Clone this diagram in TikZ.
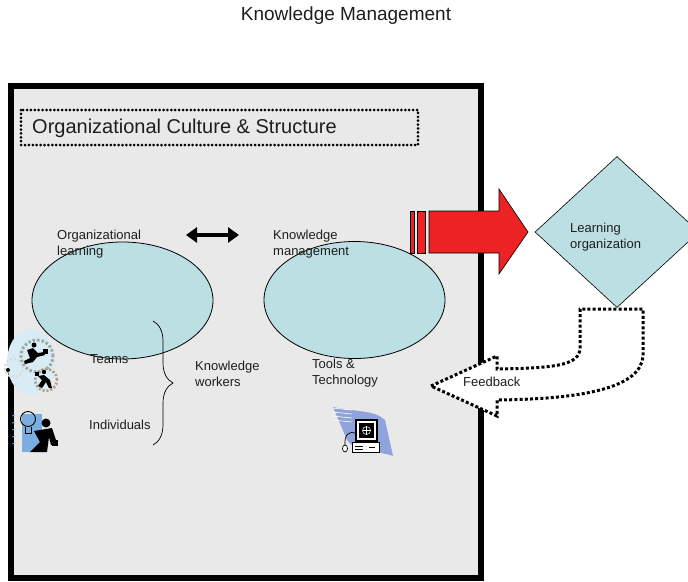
\documentclass[tikz,border=0pt]{standalone}
\usepackage{fontspec}
\setmainfont{Liberation Sans}
\usetikzlibrary{shapes.geometric,arrows.meta,decorations.pathreplacing}

\definecolor{framegray}{HTML}{E9E9E9}
\definecolor{blobfill}{HTML}{BCDFE3}
\definecolor{kmred}{HTML}{ED2224}
\definecolor{txtcol}{HTML}{1E1E1E}
\definecolor{iconpale}{HTML}{D8ECF6}
\definecolor{iconblue}{HTML}{7BAEE0}
\definecolor{swoosh}{HTML}{8FA4DA}
\definecolor{gearcol}{HTML}{9EA8A0}

\tikzset{
  lbl/.style={font=\fontsize{13}{15.5}\selectfont, align=left, inner sep=0pt,
    anchor=base west, text=txtcol},
  blob/.style={ellipse, draw, line width=0.8pt, fill=blobfill,
    minimum width=181pt, minimum height=117pt, inner sep=0pt},
  dotbox/.style={line width=3pt, line cap=round, dash pattern=on 0pt off 3.9pt},
  sqdots/.style={line width=3pt, dash pattern=on 3pt off 2.2pt},
}

\begin{document}
\begin{tikzpicture}[x=1pt,y=-1pt]
  \useasboundingbox (0,0) rectangle (688,581);

  \node[font=\fontsize{19}{22}\selectfont, text=txtcol, inner sep=0pt] (title) at (346,16) {Knowledge Management};

  % outer frame
  \draw[line width=6pt, fill=framegray] (11,86) rectangle (481,578);

  % culture & structure banner
  \draw[dotbox] (21,110) rectangle (418,145);
  \node[font=\fontsize{20}{24}\selectfont, text=txtcol, inner sep=0pt, anchor=west] (culture) at (32,128) {Organizational Culture \& Structure};

  % the two circles of activity
  \node[blob] (olblob) at (122.5,300.5) {};
  \node[blob] (kmblob) at (354.5,300) {};
  \node[lbl] (ollbl) at (57,255) {Organizational\\learning};
  \node[lbl] (kmlbl) at (273,255) {Knowledge\\management};

  \coordinate (dl) at (186,235);
  \coordinate (dr) at (239,235);
  \draw[line width=4.5pt, {Triangle[length=11pt,width=15pt]}-{Triangle[length=11pt,width=15pt]}] (dl) -- (dr);

  % people side
  \node[lbl] (teams) at (90,363) {Teams};
  \node[lbl] (indiv) at (89,429) {Individuals};
  \draw[line width=0.7pt, decorate, decoration={brace, amplitude=20pt}] (153,321) -- (153,445);
  \node[lbl] (kwork) at (195,386) {Knowledge\\workers};
  \node[lbl] (tools) at (312,384) {Tools \&\\Technology};

  % red arrow out to the learning organization
  \draw[fill=kmred, line width=0.6pt] (410,211) rectangle (414,253);
  \draw[fill=kmred, line width=0.6pt] (417,211) rectangle (425,253);
  \draw[fill=kmred, line width=0.6pt] (429,211) -- (499,211) -- (499,189) -- (528,232)
    -- (499,274) -- (499,253) -- (429,253) -- cycle;

  \node[diamond, draw, line width=0.6pt, fill=blobfill, minimum width=164pt,
    minimum height=151pt, inner sep=0pt] (lorg) at (617,232) {};
  \node[lbl] (lorglbl) at (570,248) {Learning\\organization};

  % feedback arrow back into the frame
  \draw[sqdots, fill=white] (431,386) -- (497,356) -- (497,369)
    .. controls (552,368) and (580,366) .. (580,348) -- (580,309) -- (643,309) -- (643,356)
    .. controls (641,386) and (590,399) .. (497,400) -- (497,416) -- cycle;
  \node[lbl] (fb) at (463,386) {Feedback};

  % teams clip art
  \fill[iconpale] (31,362) ellipse [x radius=24pt, y radius=33pt];
  \draw[gearcol, line width=3pt, dash pattern=on 2.5pt off 2pt] (37,356) circle[radius=16pt];
  \draw[gearcol!70!brown, line width=2.5pt, dash pattern=on 2pt off 2pt] (46,380) circle[radius=11pt];
  \draw[white!70!gray, line width=2.5pt, dash pattern=on 2pt off 2pt] (14,368) circle[radius=9pt];
  \fill[black] (34,345) circle[radius=2.5pt];
  \fill[black] (27,350) -- (33,348) -- (38,353) -- (44,352) -- (45,355) -- (37,357) -- (33,362) -- (25,364) -- (24,361) -- (30,358) -- cycle;
  \fill[black] (43,349) rectangle (48,354);
  \fill[black] (44,372) circle[radius=2.2pt];
  \fill[black] (38,376) -- (44,375) -- (50,380) -- (52,388) -- (49,388) -- (46,382) -- (42,388) -- (38,386) -- (42,380) -- cycle;
  \fill[black] (35,372) rectangle (39,376);
  \fill[black] (8,370) circle[radius=2pt];

  % individual clip art
  \fill[iconblue] (22,414) rectangle (42,452);
  \draw[line width=0.9pt] (28,419) circle[radius=7.5pt];
  \draw[line width=0.9pt] (25,427) -- (25,433) -- (31,433) -- (31,427);
  \fill[black] (46,423) circle[radius=4.5pt];
  \fill[black] (34,431) -- (52,428) -- (57,443) -- (51,445) -- (49,437) -- (47,452) -- (30,452) -- (40,442) -- cycle;
  \fill[black] (52,440) rectangle (58,446);
  \foreach \ty in {416,423,430,437,444}
    \draw[iconblue, line width=0.8pt] (12,\ty) -- (15,\ty-1);

  % computer clip art
  \fill[swoosh] (333,407) .. controls (355,412) and (375,410) .. (385,420)
    -- (393,456) .. controls (375,450) and (355,452) .. (347,440) -- cycle;
  \foreach \sy in {408,412,416,420}
    \draw[white, line width=0.6pt] (332,\sy) -- (352,\sy+2);
  \fill[black] (355,419) rectangle (378,442);
  \fill[white] (357,421) rectangle (376,440);
  \fill[black] (359,423) rectangle (374,438);
  \draw[white, line width=0.5pt] (366.5,430.5) circle[radius=4pt];
  \draw[white, line width=0.5pt] (362.5,430.5) -- (370.5,430.5) (366.5,426.5) -- (366.5,434.5);
  \draw[fill=white, line width=0.8pt] (352,442) rectangle (379,452);
  \draw[line width=1pt] (369,447) -- (375,447);
  \draw[line width=0.6pt] (355,446) -- (363,446) (355,449) -- (363,449);
  \draw[line width=0.7pt] (345,445) .. controls (344,434) and (350,431) .. (355,433);
  \draw[fill=white, line width=0.7pt] (345,448.5) ellipse [x radius=2.5pt, y radius=3.5pt];
\end{tikzpicture}
\end{document}
